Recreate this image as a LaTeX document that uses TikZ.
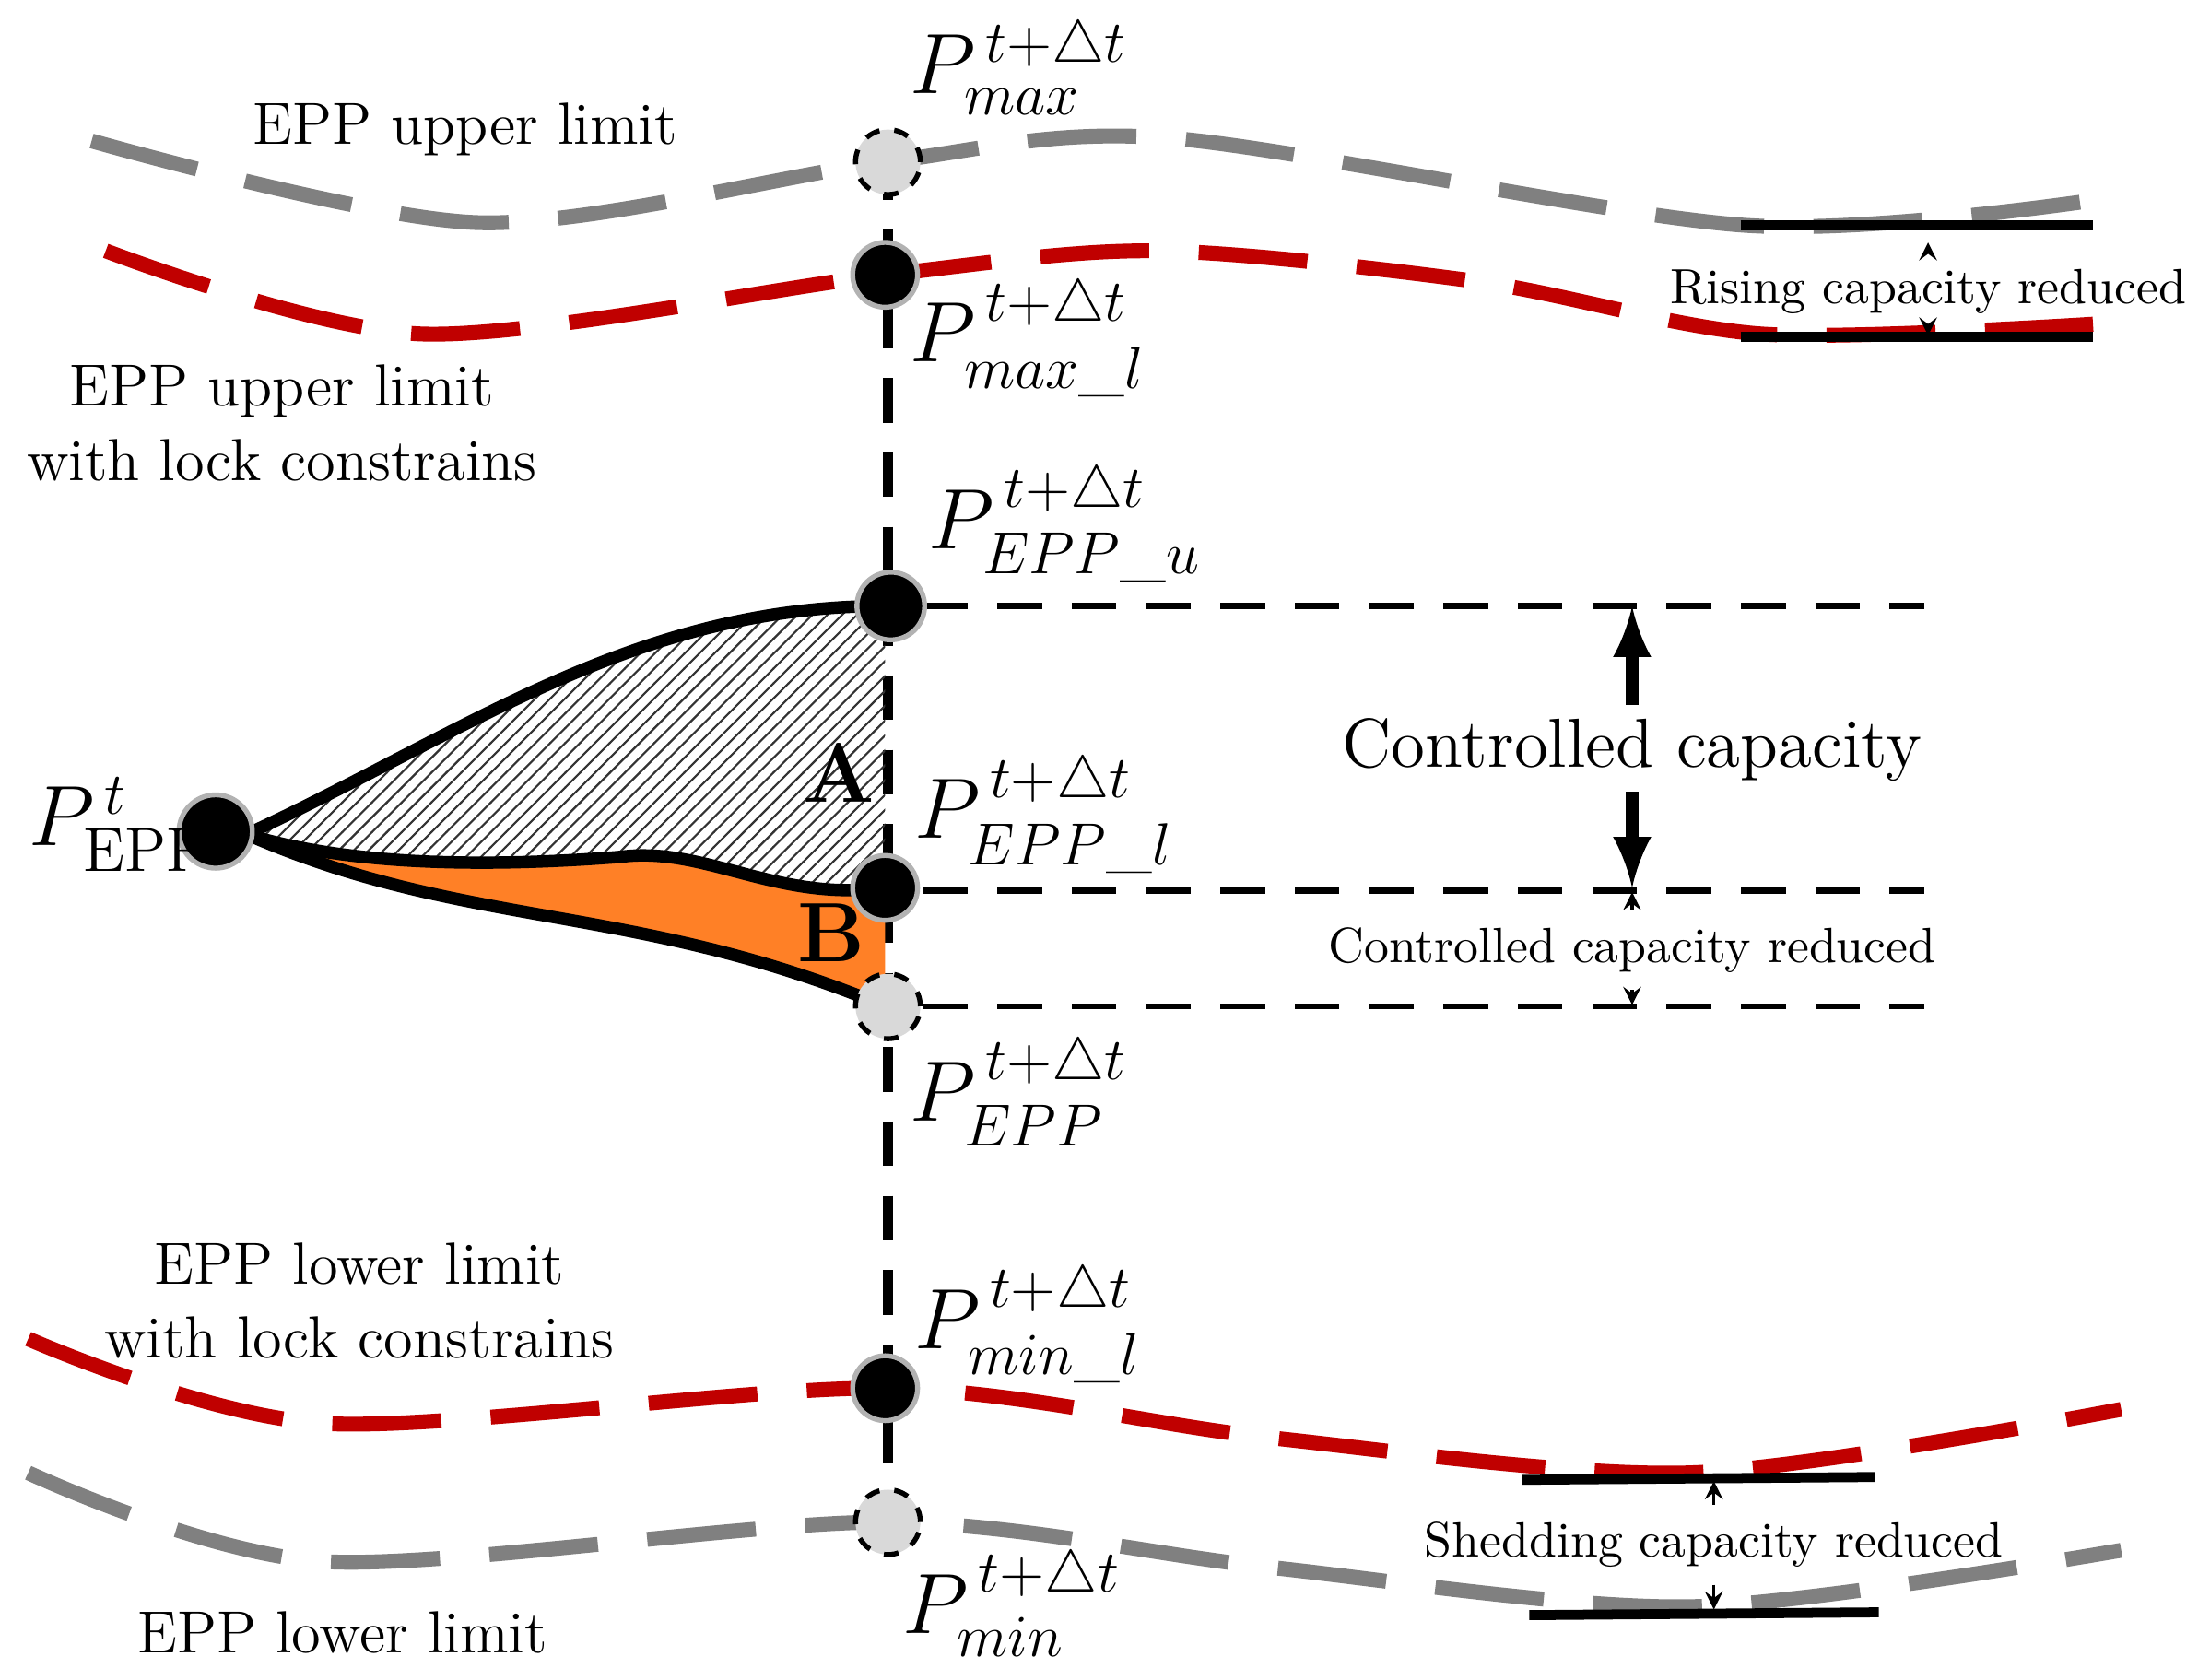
\documentclass[tikz,border=0pt]{standalone}
\usepackage{amsmath}
\usepackage{amssymb}
\usetikzlibrary{patterns}
\definecolor{limred}{RGB}{192,0,0}
\definecolor{limgray}{RGB}{128,128,128}
\definecolor{bfill}{RGB}{255,128,38}
\tikzset{
  lim/.style={line width=3pt, dash pattern=on 22pt off 10pt},
  pt/.style={circle, fill=black, draw=gray!60, line width=1pt, minimum size=0.46cm, inner sep=0pt},
  ghost/.style={circle, fill=gray!30, draw=black, dashed, line width=1pt, minimum size=0.46cm, inner sep=0pt},
  guide/.style={dashed, line width=1.2pt, dash pattern=on 9pt off 6pt},
  lbl/.style={font=\fontsize{12}{15}\selectfont},
  sml/.style={font=\fontsize{10}{12}\selectfont},
  plab/.style={font=\fontsize{18}{20}\selectfont, anchor=west, inner sep=0pt}
}
\begin{document}
\begin{tikzpicture}[x=0.01cm, y=-0.01cm]
\useasboundingbox (0,0) rectangle (1568,1192);

% limit curves
\draw[lim, limgray] plot[smooth] coordinates {(65,100) (340,158) (628,115) (830,98) (1240,160) (1500,140)};
\draw[lim, limred] plot[smooth] coordinates {(75,178) (300,237) (628,195) (820,178) (1050,200) (1250,237) (1485,230)};
\draw[lim, limred] plot[smooth] coordinates {(20,950) (230,1010) (628,985) (900,1020) (1200,1045) (1505,1000)};
\draw[lim, limgray] plot[smooth] coordinates {(20,1045) (230,1108) (628,1080) (900,1112) (1200,1140) (1505,1100)};

% vertical
\draw[guide, line width=2.2pt] (630,110) -- (630,1080);

% regions
\fill[bfill] (175,592) .. controls (250,615) and (350,615) .. (440,608) .. controls (500,600) and (550,640) .. (628,630) -- (628,714) .. controls (450,640) and (330,660) .. (175,592) -- cycle;
\fill[pattern=north east lines, pattern color=black!80] (175,592) .. controls (330,520) and (450,430) .. (628,430) -- (628,630) .. controls (550,640) and (500,600) .. (440,608) .. controls (350,615) and (250,615) .. (175,592) -- cycle;
\draw[line width=2.5pt] (175,592) .. controls (330,520) and (450,430) .. (628,430);
\draw[line width=2.5pt] (175,592) .. controls (250,615) and (350,615) .. (440,608) .. controls (500,600) and (550,640) .. (628,630);
\draw[line width=2.5pt] (175,592) .. controls (330,660) and (450,640) .. (628,714);
\node[font=\fontsize{17}{19}\selectfont\bfseries] at (595,548) {A};
\node[font=\fontsize{17}{19}\selectfont\bfseries] at (590,662) {B};

% horizontals
\draw[guide] (655,430) -- (1365,430);
\draw[guide] (655,632) -- (1365,632);
\draw[guide] (655,714) -- (1365,714);

% points
\node[ghost] (pmax) at (630,115) {};
\node[pt] (pmaxl) at (628,195) {};
\node[pt, minimum size=0.48cm] (pu) at (632,430) {};
\node[pt] (pl) at (628,630) {};
\node[ghost] (pepp) at (630,714) {};
\node[pt] (pminl) at (628,985) {};
\node[ghost] (pmin) at (630,1080) {};
\node[pt, minimum size=0.52cm] (pt0) at (153,590) {};

% point labels
\node[plab] at (645,48) {$P^{\,t+\triangle t}_{max}$};
\node[plab] at (645,240) {$P^{\,t+\triangle t}_{max\_l}$};
\node[plab] at (658,372) {$P^{\,t+\triangle t}_{EPP\_u}$};
\node[plab] at (648,578) {$P^{\,t+\triangle t}_{EPP\_l}$};
\node[plab] at (645,775) {$P^{\,t+\triangle t}_{EPP}$};
\node[plab] at (648,940) {$P^{\,t+\triangle t}_{min\_l}$};
\node[plab] at (640,1138) {$P^{\,t+\triangle t}_{min}$};
\node[plab] at (20,585) {$P^{\,t}_{\text{EPP}}$};

% limit labels
\node[lbl] at (330,92) {EPP upper limit};
\node[lbl, align=center] at (200,300) {EPP upper limit\\with lock constrains};
\node[lbl, align=center] at (255,923) {EPP lower limit\\with lock constrains};
\node[lbl] at (243,1158) {EPP lower limit};

% controlled capacity
\coordinate (cu) at (1158,430);
\coordinate (cl) at (1158,630);
\draw[-latex, line width=2.5pt] (1158,500) -- (cu);
\draw[-latex, line width=2.5pt] (1158,562) -- (cl);
\node[font=\fontsize{14}{16}\selectfont] at (1158,532) {Controlled capacity};
\node[sml] (ccr) at (1158,674) {Controlled capacity reduced};
\draw[-stealth, line width=0.6pt] (ccr.north) -- (1158,633);
\draw[-stealth, line width=0.6pt] (ccr.south) -- (1158,713);

% rising
\draw[line width=2pt] (1235,160) -- (1485,160);
\draw[line width=2pt] (1235,239) -- (1485,239);
\node[sml] (rcr) at (1368,207) {Rising capacity reduced};
\draw[-stealth, line width=0.6pt] (rcr.north) -- (1368,172);
\draw[-stealth, line width=0.6pt] (rcr.south) -- (1368,238);

% shedding
\draw[line width=2pt] (1080,1050) -- (1330,1048);
\draw[line width=2pt] (1085,1146) -- (1333,1144);
\node[sml] (scr) at (1216,1096) {Shedding capacity reduced};
\draw[-stealth, line width=0.6pt] (scr.north) -- (1216,1051);
\draw[-stealth, line width=0.6pt] (scr.south) -- (1216,1142);
\end{tikzpicture}
\end{document}
